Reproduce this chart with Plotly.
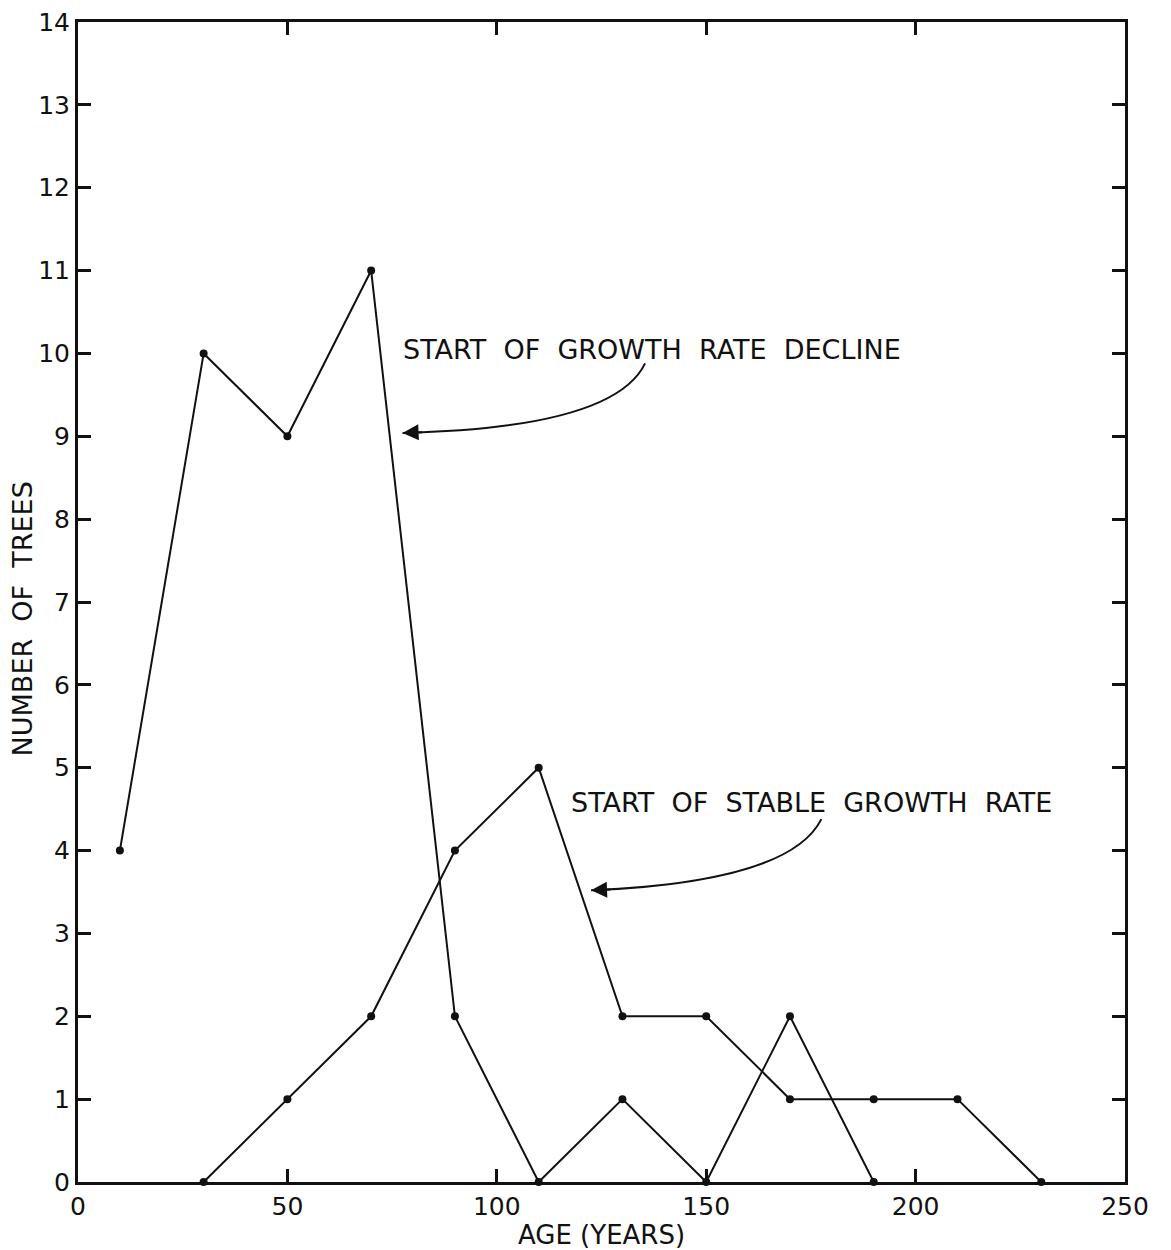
import plotly.graph_objects as go

# Tree counts by 20-year age class
age_decline = [10, 30, 50, 70, 90, 110, 130, 150, 170, 190]
trees_decline = [4, 10, 9, 11, 2, 0, 1, 0, 2, 0]

age_stable = [30, 50, 70, 90, 110, 130, 150, 170, 190, 210, 230]
trees_stable = [0, 1, 2, 4, 5, 2, 2, 1, 1, 1, 0]

x_ticks = [0, 50, 100, 150, 200, 250]
y_ticks = list(range(0, 15))

FONT = "DejaVu Sans"
INK = "#111111"

fig = go.Figure()
for xs, ys in [(age_decline, trees_decline), (age_stable, trees_stable)]:
    fig.add_trace(go.Scatter(
        x=xs, y=ys, mode="lines+markers",
        line=dict(color=INK, width=2),
        marker=dict(color=INK, size=8),
        showlegend=False, cliponaxis=False,
    ))

# Curved leader lines (quadratic Bezier in data coordinates) with arrowheads
leaders = [
    # start (text), control, tip
    ((135.4, 9.88), (128.0, 9.10), (77.5, 9.04)),
    ((177.5, 4.38), (170.0, 3.62), (122.5, 3.52)),
]
for (sx, sy), (cx, cy), (tx, ty) in leaders:
    fig.add_shape(type="path", xref="x", yref="y",
                  path=f"M {sx},{sy} Q {cx},{cy} {tx},{ty}",
                  line=dict(color=INK, width=2))
    fig.add_annotation(x=tx, y=ty, ax=tx + 5, ay=ty + 0.01,
                       xref="x", yref="y", axref="x", ayref="y",
                       text="", showarrow=True, arrowhead=2,
                       arrowsize=1.6, arrowwidth=2, arrowcolor=INK)

fig.add_annotation(x=77.2, y=10.05, xref="x", yref="y", xanchor="left",
                   text="START  OF  GROWTH  RATE  DECLINE", showarrow=False,
                   font=dict(family=FONT, size=27, color=INK))
fig.add_annotation(x=117.2, y=4.58, xref="x", yref="y", xanchor="left",
                   text="START  OF  STABLE  GROWTH  RATE", showarrow=False,
                   font=dict(family=FONT, size=27, color=INK))

# Y-axis title, set a little below the middle of the axis
fig.add_annotation(x=0, y=0.485, xref="paper", yref="paper",
                   xshift=-56, xanchor="center", yanchor="middle",
                   text="NUMBER  OF  TREES", textangle=-90, showarrow=False,
                   font=dict(family=FONT, size=27, color=INK))

axis_common = dict(
    showgrid=False, zeroline=False, showline=True, linecolor=INK, linewidth=3,
    mirror="ticks", ticks="inside", ticklen=13, tickwidth=3, tickcolor=INK,
    tickfont=dict(family=FONT, size=25, color=INK), automargin=False,
)
fig.update_xaxes(range=[0, 250], tickvals=x_ticks,
                 ticktext=[str(v) for v in x_ticks],
                 title=dict(text="AGE (YEARS)", standoff=2,
                            font=dict(family=FONT, size=26, color=INK)),
                 **axis_common)
fig.update_yaxes(range=[0, 14], tickvals=y_ticks,
                 ticktext=[str(v) for v in y_ticks],
                 **axis_common)

fig.update_layout(
    width=1171, height=1250,
    margin=dict(l=78, r=46, t=22, b=68),
    plot_bgcolor="white", paper_bgcolor="white",
)

fig.write_html("out.html")
